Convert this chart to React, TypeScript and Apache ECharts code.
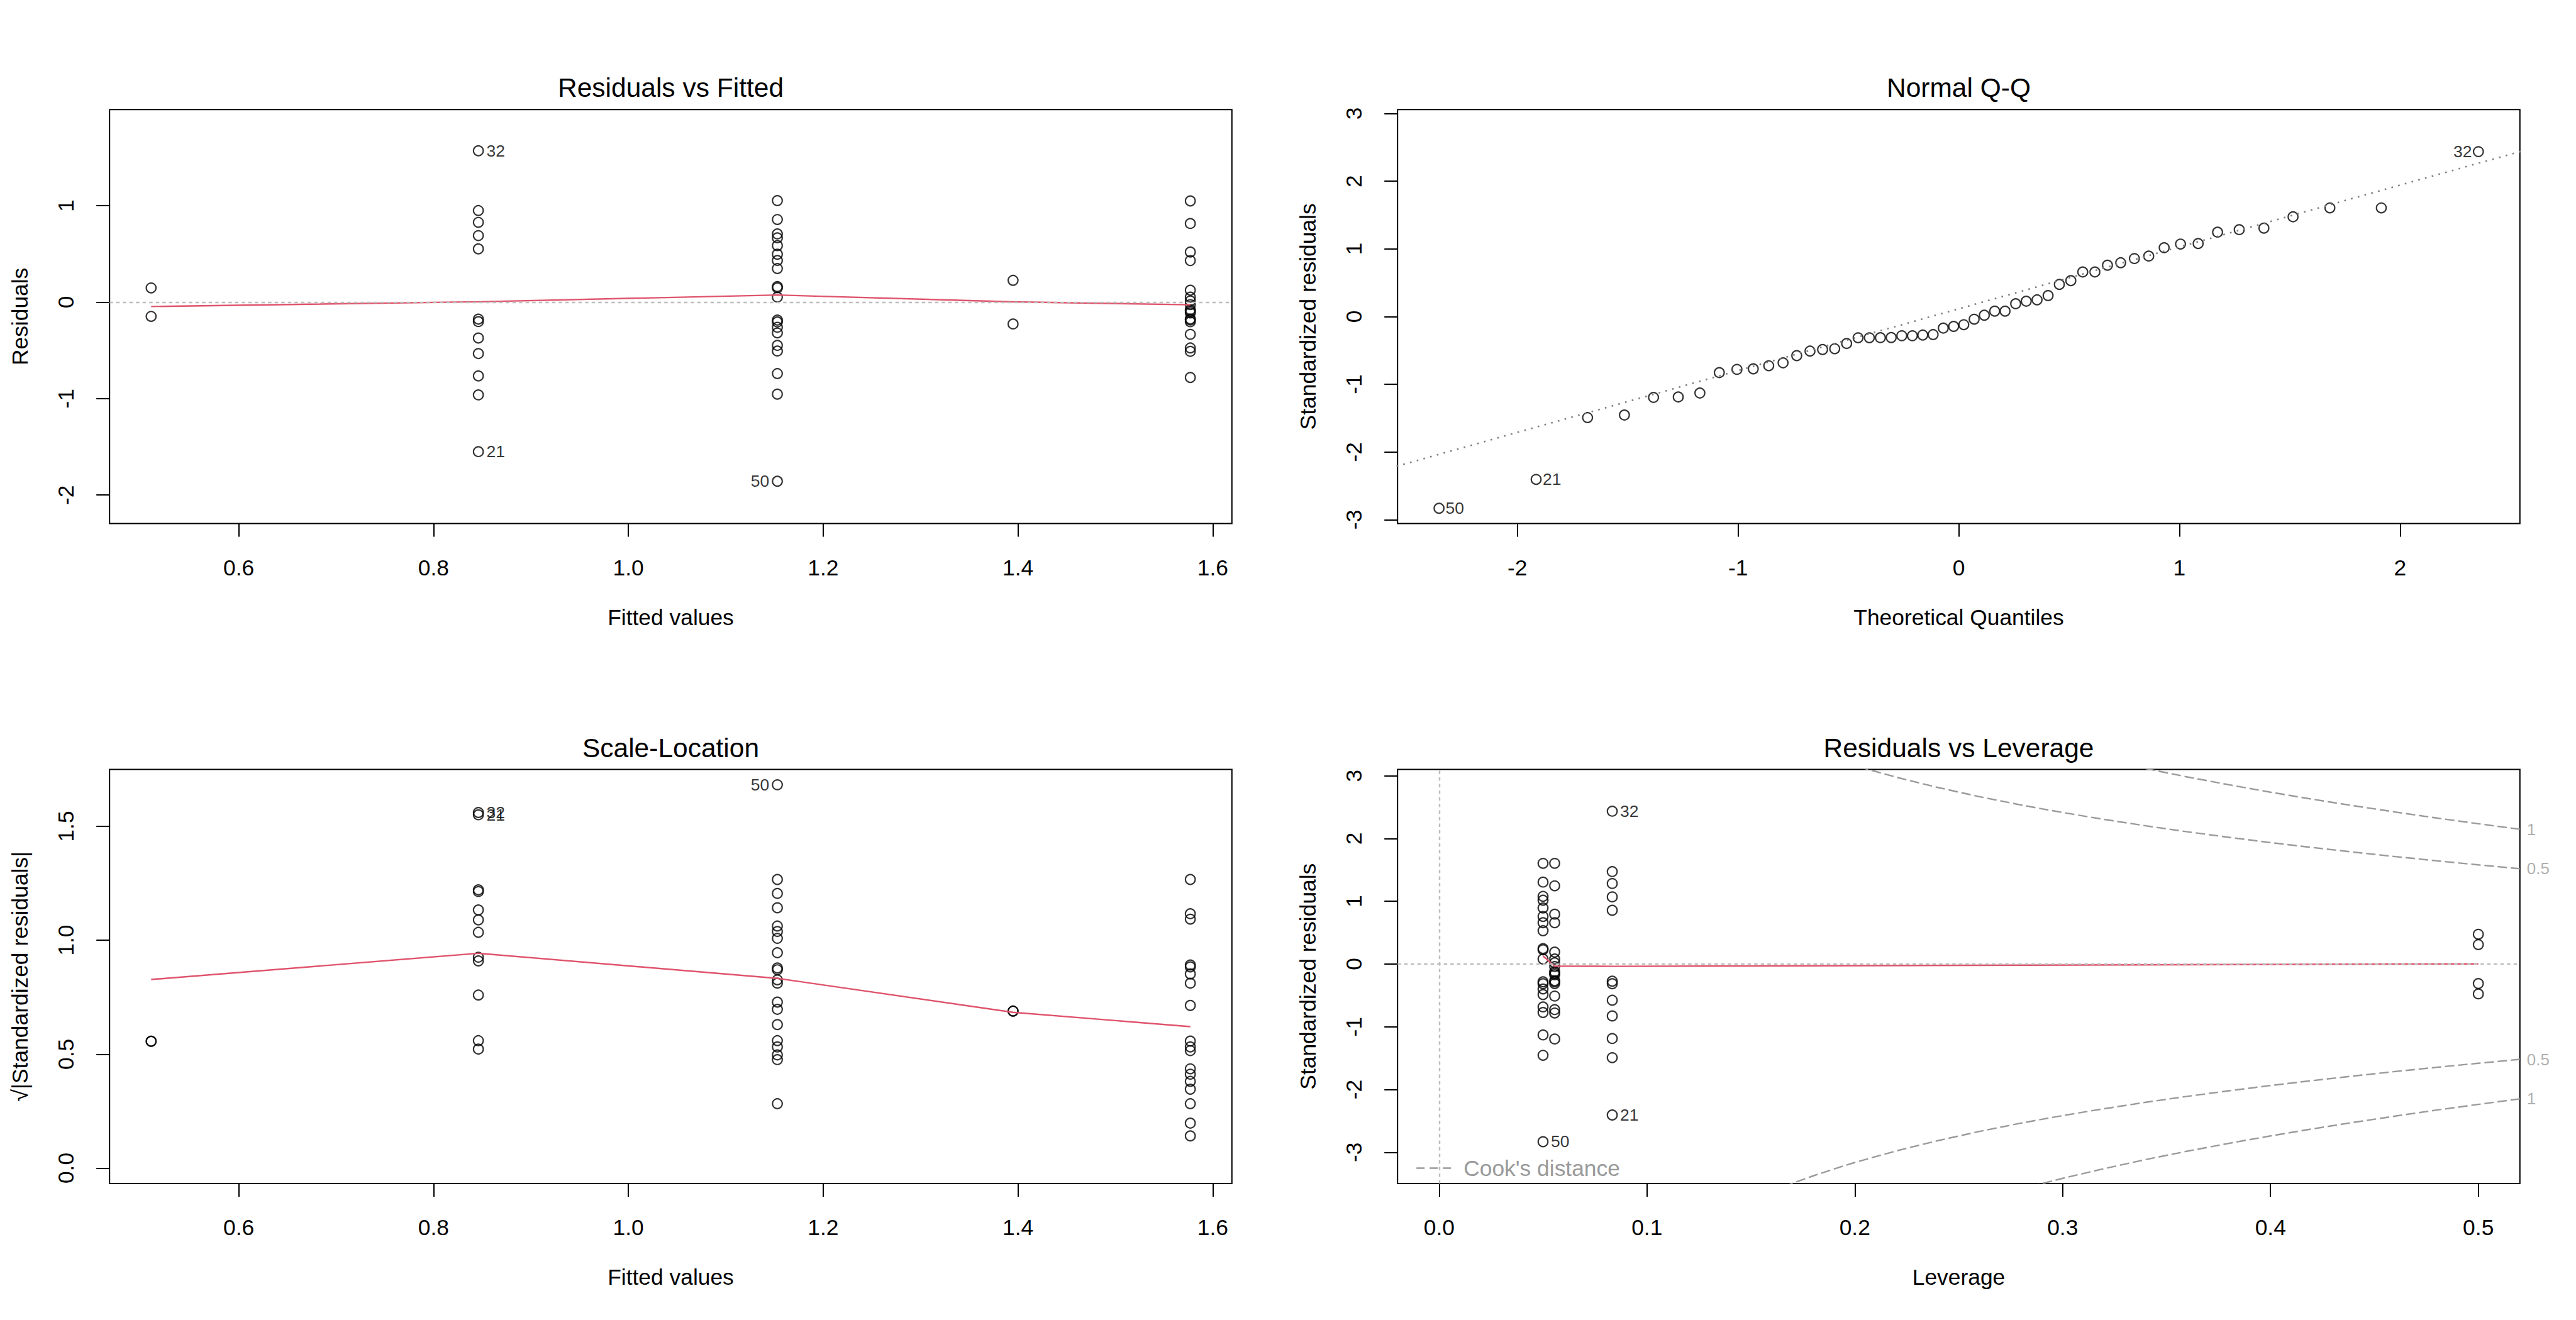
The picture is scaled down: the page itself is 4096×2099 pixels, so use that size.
import React, { useEffect, useRef } from "react";
import * as echarts from "echarts";

// ---------------- data ----------------
// five fitted-value groups of a one-way model (n = 54)
const groupFitted = [0.51, 0.846, 1.153, 1.395, 1.577];
const groupLeverage = [0.5, 0.0833, 0.05, 0.5, 0.0556];
const obsGroup = [
  0, 0,
  1, 1, 1, 1, 1, 1, 1, 1, 1, 1, 1, 1,
  2, 2, 2, 2, 2, 2, 2, 2, 2, 2, 2, 2, 2, 2, 2, 2, 2, 2, 2, 2,
  3, 3,
  4, 4, 4, 4, 4, 4, 4, 4, 4, 4, 4, 4, 4, 4, 4, 4, 4, 4,
];
const residuals = [
  0.1475, -0.1475,
  1.5698, 0.9498, 0.8274, 0.6902, 0.5523, -0.1759, -0.2017, -0.3718, -0.5329, -0.7649, -0.9614, -1.5498,
  1.0529, 0.8567, 0.7078, 0.6672, 0.5865, 0.4972, 0.4323, 0.3483, 0.162, 0.1489, 0.0525, -0.1856, -0.2053, -0.2604, -0.3188, -0.448, -0.5064, -0.7406, -0.9538, -1.8571,
  0.2261, -0.2261,
  1.0497, 0.8155, 0.5199, 0.431, 0.1243, 0.0523, 0.0131, -0.0255, -0.0785, -0.0948, -0.1112, -0.174, -0.1851, -0.2034, -0.3335, -0.4748, -0.5101, -0.7809,
];
const stdResiduals = [
  0.31, -0.31,
  2.436, 1.474, 1.284, 1.071, 0.857, -0.273, -0.313, -0.577, -0.827, -1.187, -1.492, -2.405,
  1.605, 1.306, 1.079, 1.017, 0.894, 0.758, 0.659, 0.531, 0.247, 0.227, 0.08, -0.283, -0.313, -0.397, -0.486, -0.683, -0.772, -1.129, -1.454, -2.831,
  0.475, -0.475,
  1.605, 1.247, 0.795, 0.659, 0.19, 0.08, 0.02, -0.039, -0.12, -0.145, -0.17, -0.266, -0.283, -0.311, -0.51, -0.726, -0.78, -1.194,
];
const sqrtAbsStdResiduals = [
  0.5568, 0.5568,
  1.5608, 1.2141, 1.1331, 1.0349, 0.9257, 0.5225, 0.5595, 0.7596, 0.9094, 1.0895, 1.2215, 1.5508,
  1.2669, 1.1428, 1.0388, 1.0085, 0.9455, 0.8706, 0.8118, 0.7287, 0.497, 0.4764, 0.2828, 0.532, 0.5595, 0.6301, 0.6971, 0.8264, 0.8786, 1.0625, 1.2058, 1.6826,
  0.6892, 0.6892,
  1.2669, 1.1167, 0.8916, 0.8118, 0.4359, 0.2828, 0.1414, 0.1975, 0.3464, 0.3808, 0.4123, 0.5158, 0.532, 0.5577, 0.7141, 0.8521, 0.8832, 1.0927,
];
const idIndex = [2, 13, 33];
const idText = ["32", "21", "50"];

// Normal Q-Q
const qqTheoretical = [
  -2.355, -1.915, -1.682, -1.515, -1.383, -1.271, -1.173, -1.085, -1.005, -0.931, -0.861, -0.796, -0.734, -0.674,
  -0.617, -0.562, -0.508, -0.456, -0.405, -0.355, -0.306, -0.258, -0.21, -0.163, -0.116, -0.07, -0.023,
  0.023, 0.07, 0.116, 0.163, 0.21, 0.258, 0.306, 0.355, 0.405, 0.456, 0.508, 0.562, 0.617, 0.674,
  0.734, 0.796, 0.861, 0.931, 1.005, 1.085, 1.173, 1.271, 1.383, 1.515, 1.682, 1.915, 2.355,
];
const qqSample = [
  -2.831, -2.405, -1.492, -1.454, -1.194, -1.187, -1.129, -0.827, -0.78, -0.772, -0.726, -0.683, -0.577, -0.51,
  -0.486, -0.475, -0.397, -0.313, -0.313, -0.311, -0.31, -0.283, -0.283, -0.273, -0.266, -0.17, -0.145,
  -0.12, -0.039, 0.02, 0.08, 0.08, 0.19, 0.227, 0.247, 0.31, 0.475, 0.531, 0.659, 0.659, 0.758,
  0.795, 0.857, 0.894, 1.017, 1.071, 1.079, 1.247, 1.284, 1.306, 1.474, 1.605, 1.605, 2.436,
];
const qqIdIndex = [0, 1, 53];
const qqIdText = ["50", "21", "32"];
const qqLineX = [-2.7, 2.7];
const qqLineY = [-2.35, 2.58];

// smoothers (red)
const smoothFittedX = [0.51, 0.846, 1.153, 1.395, 1.577];
const smoothResid = [-0.045, 0.004, 0.074, 0.003, -0.027];
const smoothScale = [0.828, 0.943, 0.833, 0.684, 0.621];
const smoothLevX = [0.05, 0.0556, 0.0833, 0.5];
const smoothLevY = [0.128, -0.033, -0.036, 0.003];

// Cook's distance contours (levels 0.5 and 1)
const cookH = [0.16, 0.17, 0.18, 0.19, 0.2, 0.22, 0.24, 0.26, 0.28, 0.29, 0.3, 0.32, 0.34, 0.36, 0.38, 0.4, 0.42, 0.44, 0.46, 0.48, 0.5, 0.52];
const cookUpper05 = [3.623, 3.494, 3.375, 3.265, 3.162, 2.977, 2.814, 2.667, 2.535, 2.474, 2.415, 2.305, 2.203, 2.108, 2.02, 1.936, 1.858, 1.784, 1.713, 1.645, 1.581, 1.519];
const cookLower05 = [-3.623, -3.494, -3.375, -3.265, -3.162, -2.977, -2.814, -2.667, -2.535, -2.474, -2.415, -2.305, -2.203, -2.108, -2.02, -1.936, -1.858, -1.784, -1.713, -1.645, -1.581, -1.519];
const cookUpper1 = [5.123, 4.941, 4.773, 4.617, 4.472, 4.21, 3.979, 3.772, 3.585, 3.499, 3.415, 3.26, 3.115, 2.982, 2.857, 2.739, 2.628, 2.523, 2.423, 2.327, 2.236, 2.148];
const cookLower1 = [-5.123, -4.941, -4.773, -4.617, -4.472, -4.21, -3.979, -3.772, -3.585, -3.499, -3.415, -3.26, -3.115, -2.982, -2.857, -2.739, -2.628, -2.523, -2.423, -2.327, -2.236, -2.148];
const cookLabelX = [0.52, 0.52, 0.52, 0.52];
const cookLabelY = [2.148, 1.519, -1.519, -2.148];
const cookLabelText = ["1", "0.5", "0.5", "1"];

// axis ranges and ticks
const fitRange = [0.4673, 1.6197];
const residRange = [-2.296, 1.997];
const qqXRange = [-2.543, 2.543];
const qqYRange = [-3.0575, 3.0575];
const scaleRange = [-0.0673, 1.7499];
const levRange = [-0.02, 0.52];
const levYRange = [-3.4968, 3.1018];
const fitTicks = [0.6, 0.8, 1.0, 1.2, 1.4, 1.6];
const residTicks = [-2, -1, 0, 1];
const qqXTicks = [-2, -1, 0, 1, 2];
const stdTicks = [-3, -2, -1, 0, 1, 2, 3];
const scaleTicks = [0, 0.5, 1.0, 1.5];
const levTicks = [0, 0.1, 0.2, 0.3, 0.4, 0.5];

const titles = ["Residuals vs Fitted", "Normal Q-Q", "Scale-Location", "Residuals vs Leverage"];
const xNames = ["Fitted values", "Theoretical Quantiles", "Fitted values", "Leverage"];
const yNames = ["Residuals", "Standardized residuals", "\u221A|Standardized residuals|", "Standardized residuals"];

// ---------------- styling / layout ----------------
const FONT = "'Liberation Sans', Arial, Helvetica, sans-serif";
const LAB = 35.4;
const ID = 26.5;
const TITLE = 42.5;
const GW = 1784.6;
const GH = 658.4;
const gridPos = [
  [174.2, 174.2],
  [2222.2, 174.2],
  [174.2, 1223.5],
  [2222.2, 1223.5],
];
const RED = "#DF536B";
const COOK = "#9A9A9A";
const ZERO = "#BEBEBE";

const fmt1 = (v: number) => v.toFixed(1);
const fmt0 = (v: number) => String(Math.round(v));

function xAxisCfg(gi: number, range: number[], ticks: number[], name: string, f: (v: number) => string) {
  return {
    type: "value",
    gridIndex: gi,
    min: range[0],
    max: range[1],
    position: "bottom",
    axisLine: { show: false, onZero: false },
    axisTick: { show: true, inside: false, length: 21, lineStyle: { color: "#000", width: 2 }, customValues: ticks },
    axisLabel: { show: true, customValues: ticks, formatter: f, margin: 53, fontSize: LAB, color: "#000", fontFamily: FONT, hideOverlap: false },
    splitLine: { show: false },
    name,
    nameLocation: "middle",
    nameGap: 132,
    nameTextStyle: { fontSize: LAB, color: "#000", fontFamily: FONT },
  };
}
function yAxisCfg(gi: number, range: number[], ticks: number[], name: string, f: (v: number) => string) {
  return {
    type: "value",
    gridIndex: gi,
    min: range[0],
    max: range[1],
    position: "left",
    axisLine: { show: false, onZero: false },
    axisTick: { show: true, inside: false, length: 21, lineStyle: { color: "#000", width: 2 }, customValues: ticks },
    axisLabel: { show: true, customValues: ticks, formatter: f, rotate: 90, margin: 52, fontSize: LAB, color: "#000", fontFamily: FONT, hideOverlap: false },
    splitLine: { show: false },
    name,
    nameLocation: "middle",
    nameGap: 125,
    nameTextStyle: { fontSize: LAB, color: "#000", fontFamily: FONT },
  };
}

function pointData(xs: number[], ys: number[], ids: number[], texts: string[], dist: number) {
  const mid = (Math.min(...xs) + Math.max(...xs)) / 2;
  return xs.map((x, i) => {
    const item: any = { value: [x, ys[i]] };
    const k = ids.indexOf(i);
    if (k >= 0) {
      item.label = {
        show: true,
        formatter: texts[k],
        position: x > mid ? "left" : "right",
        distance: dist,
        fontSize: ID,
        color: "#000",
        fontFamily: FONT,
      };
    }
    return item;
  });
}

const pointStyle = { color: "rgba(0,0,0,0)", borderColor: "#000", borderWidth: 2.2 };

function scatter(gi: number, data: any[], extra: any = {}) {
  return {
    type: "scatter",
    xAxisIndex: gi,
    yAxisIndex: gi,
    symbol: "circle",
    symbolSize: 15.5,
    itemStyle: pointStyle,
    data,
    z: 3,
    silent: true,
    ...extra,
  };
}
function lineSeries(gi: number, xs: number[], ys: number[], lineStyle: any, z = 4) {
  return {
    type: "line",
    xAxisIndex: gi,
    yAxisIndex: gi,
    data: xs.map((x, i) => [x, ys[i]]),
    symbol: "none",
    showSymbol: false,
    clip: true,
    lineStyle,
    z,
    silent: true,
  };
}
const zeroMark = (data: any[]) => ({
  silent: true,
  symbol: ["none", "none"],
  label: { show: false },
  lineStyle: { color: ZERO, type: [5.5, 5], width: 2.4 },
  data,
});

function buildOption() {
  const fitX = obsGroup.map((g) => groupFitted[g]);
  const levX = obsGroup.map((g) => groupLeverage[g]);
  const series: any[] = [
    // panel 1
    scatter(0, pointData(fitX, residuals, idIndex, idText, 4), { markLine: zeroMark([{ yAxis: 0 }]) }),
    lineSeries(0, smoothFittedX, smoothResid, { color: RED, width: 2.4 }),
    // panel 2
    scatter(1, pointData(qqTheoretical, qqSample, qqIdIndex, qqIdText, 1.5)),
    lineSeries(1, qqLineX, qqLineY, { color: "#7F7F7F", width: 2.6, type: [2.6, 8.5] }),
    // panel 3
    scatter(2, pointData(fitX, sqrtAbsStdResiduals, idIndex, idText, 4)),
    lineSeries(2, smoothFittedX, smoothScale, { color: RED, width: 2.4 }),
    // panel 4
    scatter(3, pointData(levX, stdResiduals, idIndex, idText, 3.5), { markLine: zeroMark([{ yAxis: 0 }, { xAxis: 0 }]) }),
    lineSeries(3, smoothLevX, smoothLevY, { color: RED, width: 2.4 }),
    lineSeries(3, cookH, cookUpper05, { color: COOK, width: 2.4, type: [15, 6] }, 2),
    lineSeries(3, cookH, cookLower05, { color: COOK, width: 2.4, type: [15, 6] }, 2),
    lineSeries(3, cookH, cookUpper1, { color: COOK, width: 2.4, type: [15, 6] }, 2),
    lineSeries(3, cookH, cookLower1, { color: COOK, width: 2.4, type: [15, 6] }, 2),
    {
      type: "scatter",
      xAxisIndex: 3,
      yAxisIndex: 3,
      symbol: "circle",
      symbolSize: 0.1,
      clip: false,
      silent: true,
      itemStyle: { color: "rgba(0,0,0,0)" },
      data: cookLabelX.map((x, i) => ({
        value: [x, cookLabelY[i]],
        label: { show: true, formatter: cookLabelText[i], position: "right", distance: 11, fontSize: 26, color: COOK, fontFamily: FONT },
      })),
    },
  ];

  const graphic: any[] = titles.map((t, i) => ({
    type: "text",
    x: gridPos[i][0] + GW / 2,
    y: gridPos[i][1] - 34.5,
    silent: true,
    style: {
      text: t,
      fontSize: TITLE,
      fontFamily: FONT,
      fill: "#000",
      align: "center",
      verticalAlign: "middle",
      textAlign: "center",
      textVerticalAlign: "middle",
    },
  }));
  // Cook's distance legend (bottom-left of panel 4)
  const lx = gridPos[3][0] + 30;
  const ly = gridPos[3][1] + GH - 24.4;
  graphic.push({
    type: "line",
    silent: true,
    shape: { x1: lx, y1: ly, x2: lx + 57, y2: ly },
    style: { stroke: COOK, lineWidth: 2.4, lineDash: [13, 8] },
  });
  graphic.push({
    type: "text",
    silent: true,
    x: lx + 75,
    y: ly,
    style: {
      text: "Cook's distance",
      fontSize: LAB,
      fontFamily: FONT,
      fill: COOK,
      align: "left",
      verticalAlign: "middle",
      textAlign: "left",
      textVerticalAlign: "middle",
    },
  });

  return {
    animation: false,
    backgroundColor: "#ffffff",
    textStyle: { fontFamily: FONT },
    grid: gridPos.map(([l, t]) => ({
      left: l,
      top: t,
      width: GW,
      height: GH,
      show: true,
      borderColor: "#000",
      borderWidth: 2,
      backgroundColor: "rgba(0,0,0,0)",
      containLabel: false,
    })),
    xAxis: [
      xAxisCfg(0, fitRange, fitTicks, xNames[0], fmt1),
      xAxisCfg(1, qqXRange, qqXTicks, xNames[1], fmt0),
      xAxisCfg(2, fitRange, fitTicks, xNames[2], fmt1),
      xAxisCfg(3, levRange, levTicks, xNames[3], fmt1),
    ],
    yAxis: [
      yAxisCfg(0, residRange, residTicks, yNames[0], fmt0),
      yAxisCfg(1, qqYRange, stdTicks, yNames[1], fmt0),
      yAxisCfg(2, scaleRange, scaleTicks, yNames[2], fmt1),
      yAxisCfg(3, levYRange, stdTicks, yNames[3], fmt0),
    ],
    series,
    graphic,
  };
}

export default function App() {
  const ref = useRef<HTMLDivElement>(null);
  useEffect(() => {
    document.body.style.margin = "0";
    if (!ref.current) return;
    const chart = echarts.init(ref.current, undefined, { renderer: "svg", width: 4096, height: 2099 });
    chart.setOption(buildOption() as any);
    return () => chart.dispose();
  }, []);
  return (
    <div
      ref={ref}
      style={{ width: 4096, height: 2099, position: "absolute", left: 0, top: 0, background: "#fff" }}
    />
  );
}
